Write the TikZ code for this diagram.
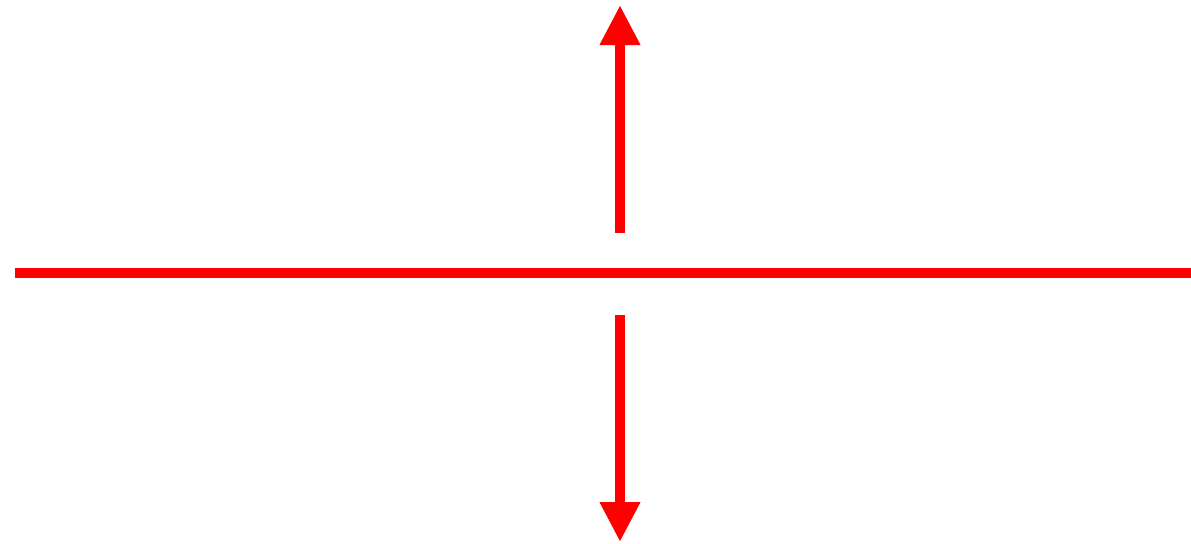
\documentclass[tikz,border=0pt]{standalone}
\usepackage{xcolor}
\usepackage{tikz}
\usetikzlibrary{arrows.meta}

\begin{document}
\begin{tikzpicture}[x=0.2mm, y=-0.2mm,
  ln/.style={red, line width=5.2pt},
  arr/.style={red, line width=5.6pt, -{Triangle[length=8mm,width=7.6mm]}}]
\useasboundingbox (0,0) rectangle (1191,543);
\coordinate (left) at (15,273); \coordinate (right) at (1191,273);
\coordinate (upfrom) at (620,233); \coordinate (upto) at (620,5);
\coordinate (downfrom) at (620,315); \coordinate (downto) at (620,542);
\draw[ln] (left)--(right);
\draw[arr] (upfrom)--(upto); \draw[arr] (downfrom)--(downto);
\end{tikzpicture}
\end{document}
